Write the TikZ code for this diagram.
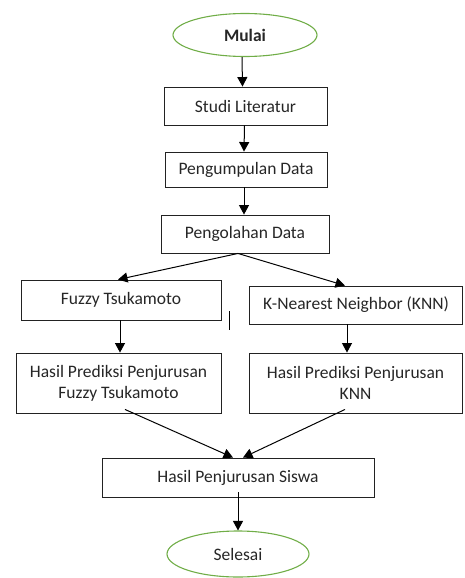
\documentclass[tikz,border=0pt]{standalone}
\usepackage{fontspec}
\setmainfont{Carlito}
\usetikzlibrary{shapes.geometric,arrows.meta}
\definecolor{termgreen}{HTML}{70AD47}
\definecolor{boxline}{HTML}{222222}
\definecolor{txt}{HTML}{262626}
\tikzset{
  procbox/.style={draw=boxline,line width=0.9pt,rectangle,inner sep=0pt,align=center,text=txt,font=\fontsize{17.5}{21}\selectfont},
  termnode/.style={draw=termgreen,line width=1.1pt,ellipse,inner sep=0pt,text=txt,font=\fontsize{17.5}{21}\selectfont},
  arr/.style={draw=black,line width=1pt,-{Triangle[length=9.5pt,width=10pt]}},
  strayline/.style={draw=black,line width=1pt}
}
\begin{document}
\begin{tikzpicture}[x=1pt,y=-1pt]
\useasboundingbox (0,0) rectangle (464,578);
\node[termnode,minimum width=144pt,minimum height=43pt] (mulai) at (245,35) {\textbf{Mulai}};
\node[procbox,minimum width=163pt,minimum height=38pt] (studi) at (245.5,106) {Studi Literatur};
\node[procbox,minimum width=162pt,minimum height=35pt] (kumpul) at (246,169.5) {Pengumpulan Data};
\node[procbox,minimum width=168pt,minimum height=38pt] (olah) at (245,234) {Pengolahan Data};
\node[procbox,minimum width=200pt,minimum height=40pt] (fuzzy) at (121,300) {Fuzzy Tsukamoto};
\node[procbox,minimum width=213pt,minimum height=38pt] (knn) at (356,305) {K-Nearest Neighbor (KNN)};
\node[procbox,minimum width=205pt,minimum height=60pt] (hfuzzy) at (118.5,383) {Hasil Prediksi Penjurusan\\Fuzzy Tsukamoto};
\node[procbox,minimum width=213pt,minimum height=60pt] (hknn) at (355.5,383) {Hasil Prediksi Penjurusan\\KNN};
\node[procbox,minimum width=272pt,minimum height=39pt] (siswa) at (238,477.5) {Hasil Penjurusan Siswa};
\node[termnode,minimum width=142pt,minimum height=46pt] (selesai) at (238,554) {Selesai};
\coordinate (strayA) at (229,311);
\coordinate (strayB) at (229,330);
\draw[arr] ([xshift=-3pt]mulai.south) -- ([xshift=-3pt]studi.north);
\draw[arr] ([xshift=-1pt]studi.south) -- ([xshift=-2pt]kumpul.north);
\draw[arr] ([xshift=-2pt]kumpul.south) -- ([xshift=-1pt]olah.north);
\draw[arr] ([xshift=-7pt]olah.south) -- ([xshift=-3pt]fuzzy.north);
\draw[arr] ([xshift=-7pt]olah.south) -- ([xshift=-11pt]knn.north);
\draw[arr] ([xshift=-1pt]fuzzy.south) -- ([xshift=1.5pt]hfuzzy.north);
\draw[arr] ([xshift=-9pt]knn.south) -- ([xshift=-8.5pt]hknn.north);
\draw[arr] ([xshift=6.5pt,yshift=4pt]hfuzzy.south) -- ([xshift=-5pt]siswa.north);
\draw[arr] ([xshift=-10.5pt,yshift=4pt]hknn.south) -- ([xshift=5pt]siswa.north);
\draw[arr] ([yshift=5pt]siswa.south) -- (selesai.north);
\draw[strayline] (strayA) -- (strayB);
\end{tikzpicture}
\end{document}
